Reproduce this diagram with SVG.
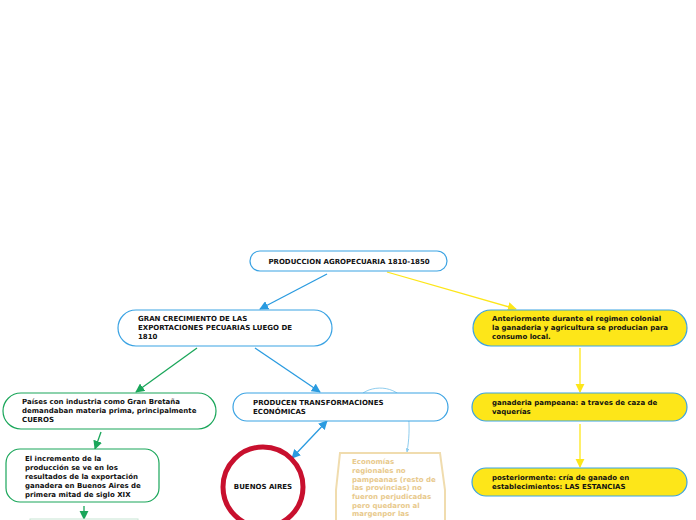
<svg xmlns="http://www.w3.org/2000/svg" width="696" height="520" viewBox="0 0 696 520">
<style>
text{font-family:"DejaVu Sans",Verdana,sans-serif;font-size:7px;font-weight:bold;fill:#111}
.blue{fill:#fff;stroke:#3ba3e3;stroke-width:1.2}
.yel{fill:#fde619;stroke:#3ba3e3;stroke-width:1.2}
.grn{fill:#fff;stroke:#1aa65a;stroke-width:1.2}
.cb{stroke:#2a9be0;stroke-width:1.3;fill:none}
.cy{stroke:#fde619;stroke-width:1.3;fill:none}
.cg{stroke:#1aa65a;stroke-width:1.3;fill:none}
.tan{fill:#e8c98c;font-weight:bold}
</style>
<defs>
<marker id="ab" viewBox="0 0 10 10" refX="9" refY="5" markerWidth="7" markerHeight="7" orient="auto-start-reverse"><path d="M0,0L10,5L0,10z" fill="#2a9be0"/></marker>
<marker id="ay" viewBox="0 0 10 10" refX="9" refY="5" markerWidth="7" markerHeight="7" orient="auto"><path d="M0,0L10,5L0,10z" fill="#fde619"/></marker>
<marker id="ag" viewBox="0 0 10 10" refX="9" refY="5" markerWidth="7" markerHeight="7" orient="auto"><path d="M0,0L10,5L0,10z" fill="#1aa65a"/></marker>
<marker id="al" viewBox="0 0 10 10" refX="9" refY="5" markerWidth="4" markerHeight="4" orient="auto"><path d="M0,0L10,5L0,10z" fill="#8fcdee"/></marker>
</defs>
<g id="connectors">
<line class="cb" x1="327" y1="274" x2="260" y2="309" marker-end="url(#ab)"/>
<line class="cy" x1="387" y1="272" x2="516" y2="309" marker-end="url(#ay)"/>
<line class="cg" x1="197" y1="348" x2="136" y2="392" marker-end="url(#ag)"/>
<line class="cb" x1="255" y1="348" x2="320" y2="392" marker-end="url(#ab)"/>
<line class="cy" x1="580" y1="348" x2="580" y2="392" marker-end="url(#ay)"/>
<line class="cy" x1="580" y1="424" x2="580" y2="467" marker-end="url(#ay)"/>
<line class="cg" x1="101" y1="432" x2="95" y2="449" marker-end="url(#ag)"/>
<line class="cg" x1="84" y1="506" x2="84" y2="519" marker-end="url(#ag)"/>
<line class="cb" x1="327" y1="421" x2="292" y2="458" marker-start="url(#ab)" marker-end="url(#ab)"/>
<path d="M363,393 C378,383 404,388 408,410 C410,428 409,440 407,452" fill="none" stroke="#8fcdee" stroke-width="1" marker-end="url(#al)"/>
</g>
<g id="n-root"><rect class="blue" x="250" y="251" width="197" height="20" rx="10"/><text x="349" y="264" text-anchor="middle">PRODUCCION AGROPECUARIA 1810-1850</text></g>
<g id="n-crecimiento"><rect class="blue" x="118" y="310" width="214" height="36" rx="18"/><text x="138" y="321">GRAN CRECIMIENTO DE LAS</text><text x="138" y="330">EXPORTACIONES PECUARIAS LUEGO DE</text><text x="138" y="339">1810</text></g>
<g id="n-anteriormente"><rect class="yel" x="473" y="310" width="214" height="36" rx="18"/><text x="492" y="321">Anteriormente durante el regimen colonial</text><text x="492" y="330">la ganaderia y agricultura se producian para</text><text x="492" y="339">consumo local.</text></g>
<g id="n-paises"><rect class="grn" x="3" y="393" width="213" height="36" rx="18"/><text x="22" y="404">Países con industria como Gran Bretaña</text><text x="22" y="413">demandaban materia prima, principalmente</text><text x="22" y="422">CUEROS</text></g>
<g id="n-producen"><rect class="blue" x="233" y="393" width="215" height="28" rx="14"/><text x="253" y="405">PRODUCEN TRANSFORMACIONES</text><text x="253" y="414">ECONÓMICAS</text></g>
<g id="n-ganaderia"><rect class="yel" x="472" y="393" width="215" height="28" rx="14"/><text x="492" y="405">ganaderia pampeana: a traves de caza de</text><text x="492" y="414">vaquerías</text></g>
<g id="n-incremento"><rect class="grn" x="6" y="449" width="153" height="53" rx="14"/><text x="25" y="461">El incremento de la</text><text x="25" y="470">producción se ve en los</text><text x="25" y="479">resultados de la exportación</text><text x="25" y="488">ganadera en Buenos Aires de</text><text x="25" y="497">primera mitad de siglo XIX</text></g>
<g id="n-posteriormente"><rect class="yel" x="472" y="468" width="215" height="28" rx="14"/><text x="492" y="480">posteriormente: cría de ganado en</text><text x="492" y="489">establecimientos: LAS ESTANCIAS</text></g>
<g id="n-bottom"><rect x="30" y="519" width="108" height="4" fill="#fff" stroke="#c8e6d4" stroke-width="1"/></g>
<g id="n-buenosaires"><circle cx="263" cy="487" r="40" fill="#fff" stroke="#c8102e" stroke-width="5"/><text x="263" y="489" text-anchor="middle">BUENOS AIRES</text></g>
<g id="n-economias"><path d="M340,453 L440,453 L445,490 L445,525 L336,525 L336,490 Z" fill="#fff" stroke="#f0dcae" stroke-width="2"/>
<text class="tan" x="352" y="464">Economías</text><text class="tan" x="352" y="473">regionales no</text><text class="tan" x="352" y="482">pampeanas (resto de</text><text class="tan" x="352" y="490">las provincias) no</text><text class="tan" x="352" y="499">fueron perjudicadas</text><text class="tan" x="352" y="508">pero quedaron al</text><text class="tan" x="352" y="516">margenpor las</text></g>
</svg>
